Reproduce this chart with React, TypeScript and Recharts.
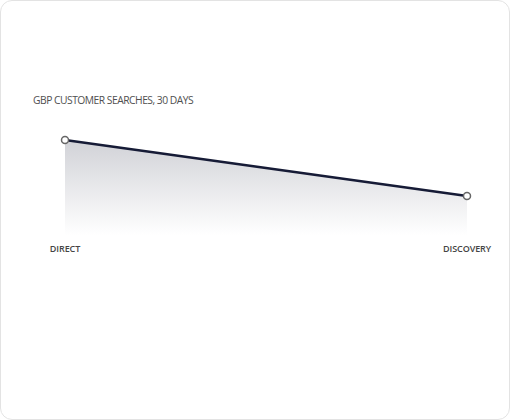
import React from "react";
import { AreaChart, Area, XAxis, YAxis } from "recharts";

const categories = ["DIRECT", "DISCOVERY"];
const searches = [100, 41];
const title = "GBP CUSTOMER SEARCHES, 30 DAYS";

const data = categories.map((c, i) => ({ name: c, value: searches[i] }));

export default function App() {
  return (
    <div
      style={{
        position: "fixed",
        left: 0,
        top: 0,
        width: 508,
        height: 418,
        border: "1px solid #e3e3e3",
        borderRadius: 12,
        background: "#fff",
        fontFamily: "'Open Sans', sans-serif",
      }}
    >
      <div
        style={{
          position: "absolute",
          left: 32,
          top: 92,
          fontSize: 10.3,
          lineHeight: "14px",
          letterSpacing: "-0.5px",
          color: "#505050",
          whiteSpace: "nowrap",
        }}
      >
        {title}
      </div>
      <div style={{ position: "absolute", left: -1, top: -1 }}>
        <AreaChart
          width={510}
          height={420}
          data={data}
          margin={{ top: 140, right: 43, bottom: 155, left: 65 }}
        >
          <defs>
            <linearGradient id="fillGrad" x1="0" y1="0" x2="0" y2="1">
              <stop offset="0%" stopColor="#d1d2d7" stopOpacity={1} />
              <stop offset="100%" stopColor="#ffffff" stopOpacity={1} />
            </linearGradient>
          </defs>
          <XAxis
            dataKey="name"
            axisLine={false}
            tickLine={false}
            interval={0}
            tickMargin={5}
            tick={{ fontSize: 9, fill: "#444", fontWeight: 600, letterSpacing: "-0.1px", fontFamily: "'Open Sans', sans-serif" }}
          />
          <YAxis hide domain={[0, "dataMax"]} />
          <Area
            type="linear"
            dataKey="value"
            stroke="#161b36"
            strokeWidth={2.5}
            fill="url(#fillGrad)"
            fillOpacity={1}
            isAnimationActive={false}
            dot={{ r: 3.5, stroke: "#666", strokeWidth: 1.5, fill: "#fff" }}
            activeDot={false}
          />
        </AreaChart>
      </div>
    </div>
  );
}
